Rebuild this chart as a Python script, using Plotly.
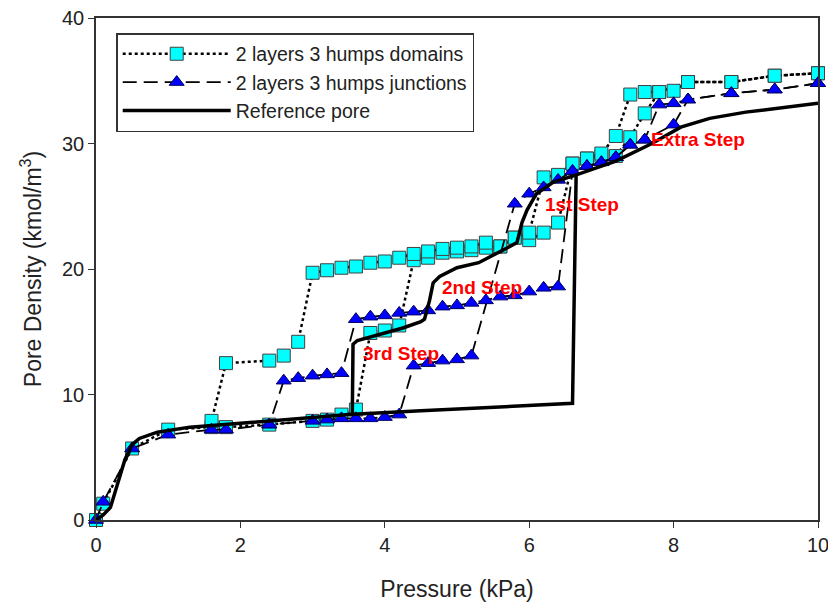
import plotly.graph_objects as go

# ---- data: 2 layers 3 humps domains (squares) ----
dom_ads_p = [0, 0.1, 0.5, 1.0, 1.6, 1.8, 2.4, 3.0, 3.2, 3.4, 3.6, 3.8, 4.0, 4.2, 4.4, 4.6, 4.8,
             5.0, 5.2, 5.4, 5.6, 5.8, 6.0, 6.2, 6.4, 6.6, 6.8, 7.0, 7.2, 7.4, 7.6, 7.8, 8.2, 8.8, 9.4, 10.0]
dom_ads_d = [0, 1.3, 5.7, 7.2, 7.4, 7.4, 7.6, 7.9, 8.0, 8.4, 8.8, 14.9, 15.1, 15.5, 20.7, 20.9, 21.3,
             21.4, 21.5, 21.7, 21.8, 22.5, 22.3, 22.9, 23.7, 28.4, 28.8, 29.0, 29.0, 30.5, 32.4, 34.1, 34.9, 34.9, 35.4, 35.6]
dom_des_p = [10.0, 9.4, 8.8, 8.2, 8.0, 7.8, 7.6, 7.4, 7.2, 7.0, 6.8, 6.6, 6.4, 6.2, 6.0, 5.8, 5.6, 5.4,
             5.2, 5.0, 4.8, 4.6, 4.4, 4.2, 4.0, 3.8, 3.6, 3.4, 3.2, 3.0, 2.8, 2.6, 2.4, 1.8, 1.6]
dom_des_d = [35.6, 35.4, 34.9, 34.9, 34.2, 34.1, 34.1, 33.9, 30.6, 29.2, 28.8, 28.4, 27.5, 27.3, 22.9, 22.5, 21.8, 22.1,
             21.8, 21.7, 21.6, 21.4, 21.2, 20.9, 20.6, 20.5, 20.2, 20.1, 19.9, 19.7, 14.2, 13.1, 12.7, 12.5, 7.9]

# ---- data: 2 layers 3 humps junctions (triangles) ----
jun_ads_p = [0, 0.1, 0.5, 1.0, 1.6, 1.8, 2.4, 3.0, 3.2, 3.4, 3.6, 3.8, 4.0, 4.2, 4.4, 4.6, 4.8, 5.0, 5.2,
             5.8, 6.0, 6.2, 6.4, 6.6, 6.8, 7.0, 7.2, 7.4, 7.6, 8.0, 8.2, 8.8, 9.4, 10.0]
jun_ads_d = [0, 1.45, 5.7, 6.8, 7.2, 7.2, 7.6, 7.9, 8.0, 8.1, 8.1, 8.1, 8.2, 8.4, 12.3, 12.5, 12.7, 12.8, 13.1,
             25.2, 26.0, 26.5, 27.1, 27.8, 28.2, 28.5, 28.9, 29.9, 30.3, 31.5, 33.5, 34.0, 34.3, 34.8]
jun_des_p = [10.0, 9.4, 8.8, 8.2, 8.0, 7.8, 7.6, 7.4, 7.2, 7.0, 6.8, 6.6, 6.4, 6.2, 6.0, 5.8, 5.6, 5.4, 5.2,
             5.0, 4.8, 4.6, 4.4, 4.2, 4.0, 3.8, 3.6, 3.4, 3.2, 3.0, 2.8, 2.6, 2.4]
jun_des_d = [34.8, 34.3, 34.0, 33.5, 33.2, 33.1, 30.3, 29.9, 28.9, 28.5, 28.2, 27.8, 18.6, 18.5, 18.2, 17.9, 17.8, 17.5, 17.3,
             17.1, 17.0, 16.7, 16.6, 16.5, 16.3, 16.2, 16.0, 11.7, 11.6, 11.5, 11.3, 11.1, 7.6]

# ---- data: reference pore (solid) ----
ref_ads_p = [0, 0.1, 0.2, 0.3, 0.4, 0.5, 0.6, 0.85, 1.3, 2.0, 2.7, 3.5, 4.5, 5.5, 6.6, 6.65, 6.7, 7.2, 7.7, 8.1, 8.5, 9.0, 10.0]
ref_ads_d = [0, 0.4, 1.0, 2.8, 4.8, 6.0, 6.5, 7.0, 7.4, 7.7, 8.0, 8.4, 8.7, 9.0, 9.3, 27.5, 27.6, 28.6, 30.0, 31.3, 32.0, 32.5, 33.2]
ref_des_p = [6.65, 6.33, 6.1, 5.97, 5.9, 5.83, 5.7, 5.5, 5.3, 5.0, 4.76, 4.67, 4.62, 4.55, 4.5, 4.25, 3.85, 3.62, 3.56, 3.55]
ref_des_d = [27.5, 26.9, 26.0, 24.7, 23.7, 22.1, 21.7, 21.1, 20.5, 20.1, 19.4, 18.9, 17.5, 16.0, 15.8, 15.3, 14.7, 14.3, 14.0, 8.5]

x_ticks = [0, 2, 4, 6, 8, 10]
y_ticks = [0, 10, 20, 30, 40]

step_labels = ["1st Step", "2nd Step", "3rd Step", "Extra Step"]
step_p = [6.73, 5.35, 4.23, 8.34]
step_d = [25.1, 18.5, 13.3, 30.3]

FONT = "Liberation Sans, Arial"
TXT = "#222222"

fig = go.Figure()

sq_marker = dict(symbol="square", size=13, color="#00FFFF", line=dict(color="#404040", width=1))
tri_marker = dict(symbol="triangle-up", size=13, color="#0000FF", line=dict(color="#000060", width=1))

fig.add_trace(go.Scatter(x=dom_ads_p, y=dom_ads_d, mode="lines+markers", name="2 layers 3 humps domains",
                         legendgroup="dom", line=dict(color="black", width=2.5, dash="dot"),
                         marker=sq_marker, cliponaxis=False))
fig.add_trace(go.Scatter(x=dom_des_p, y=dom_des_d, mode="lines+markers", name="2 layers 3 humps domains",
                         legendgroup="dom", showlegend=False, line=dict(color="black", width=2.5, dash="dot"),
                         marker=sq_marker, cliponaxis=False))
fig.add_trace(go.Scatter(x=jun_ads_p, y=jun_ads_d, mode="lines+markers", name="2 layers 3 humps junctions",
                         legendgroup="jun", line=dict(color="black", width=1.8, dash="14px,7px"),
                         marker=tri_marker, cliponaxis=False))
fig.add_trace(go.Scatter(x=jun_des_p, y=jun_des_d, mode="lines+markers", name="2 layers 3 humps junctions",
                         legendgroup="jun", showlegend=False, line=dict(color="black", width=1.8, dash="14px,7px"),
                         marker=tri_marker, cliponaxis=False))
fig.add_trace(go.Scatter(x=ref_ads_p, y=ref_ads_d, mode="lines", name="Reference pore",
                         legendgroup="ref", line=dict(color="black", width=3.5), cliponaxis=False))
fig.add_trace(go.Scatter(x=ref_des_p, y=ref_des_d, mode="lines", name="Reference pore",
                         legendgroup="ref", showlegend=False, line=dict(color="black", width=3.5), cliponaxis=False))

for lab, px, py in zip(step_labels, step_p, step_d):
    fig.add_annotation(x=px, y=py, text="<b>" + lab + "</b>", showarrow=False,
                       font=dict(family=FONT, size=19, color="#FF0000"))

axis_common = dict(showgrid=False, zeroline=False, showline=True, linecolor="#333333", linewidth=1.5,
                   mirror=True, ticks="outside", ticklen=6, tickcolor="#333333", automargin=False,
                   ticklabeloverflow="allow",
                   tickfont=dict(family=FONT, size=20, color=TXT))

fig.update_xaxes(range=[0, 10], tickvals=x_ticks, **axis_common,
                 title=dict(text="Pressure (kPa)", font=dict(family=FONT, size=23, color=TXT), standoff=26))
fig.update_yaxes(range=[0, 40], tickvals=y_ticks, **axis_common,
                 title=dict(text="Pore Density (kmol/m<sup>3</sup>)",
                            font=dict(family=FONT, size=23, color=TXT), standoff=14))

fig.update_layout(
    width=828, height=604,
    margin=dict(l=96, r=10, t=18, b=84),
    plot_bgcolor="white", paper_bgcolor="white",
    legend=dict(x=0.028, y=0.97, xanchor="left", yanchor="top", bgcolor="white",
                bordercolor="#333333", borderwidth=1.5, itemwidth=108, tracegroupgap=0,
                font=dict(family=FONT, size=19.5, color=TXT)),
)

fig.write_html("out.html")
